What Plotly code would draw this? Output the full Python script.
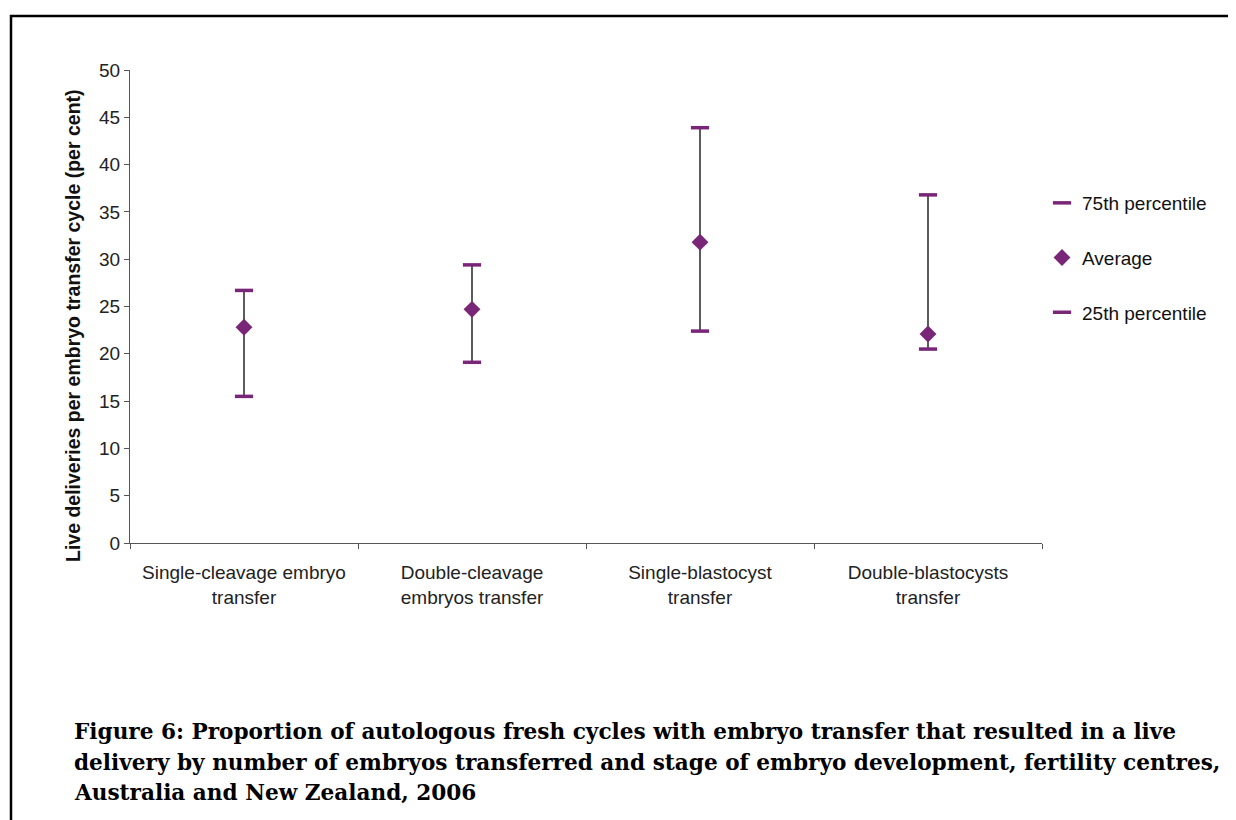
import plotly.graph_objects as go

categories = ["Single-cleavage embryo<br>transfer", "Double-cleavage<br>embryos transfer",
              "Single-blastocyst<br>transfer", "Double-blastocysts<br>transfer"]
p75 = [26.7, 29.4, 43.9, 36.8]
average = [22.8, 24.7, 31.8, 22.1]
p25 = [15.5, 19.1, 22.4, 20.5]
y_ticks = [0, 5, 10, 15, 20, 25, 30, 35, 40, 45, 50]
y_title = "Live deliveries per embryo transfer cycle (per cent)"
caption_lines = [
    "Figure 6: Proportion of autologous fresh cycles with embryo transfer that resulted in a live",
    "delivery by number of embryos transferred and stage of embryo development, fertility centres,",
    "Australia and New Zealand, 2006",
]

purple = "#7a2678"
font_sans = "Liberation Sans, Arial, sans-serif"

fig = go.Figure()

# vertical connecting lines (high-low)
fig.add_trace(go.Scatter(
    x=categories, y=average, mode="markers", showlegend=False, hoverinfo="skip",
    marker=dict(size=0.1, color="rgba(0,0,0,0)"),
    error_y=dict(type="data", symmetric=False,
                 array=[h - a for h, a in zip(p75, average)],
                 arrayminus=[a - l for a, l in zip(average, p25)],
                 color="#333333", thickness=1.6, width=0),
))
fig.add_trace(go.Scatter(
    x=categories, y=p75, mode="markers", name="75th percentile", legendgroup="a",
    marker=dict(symbol="line-ew-open", size=13, color=purple, line=dict(color=purple, width=3.5)),
))
fig.add_trace(go.Scatter(
    x=categories, y=average, mode="markers", name="Average", legendgroup="b",
    marker=dict(symbol="diamond", size=13, color=purple),
))
fig.add_trace(go.Scatter(
    x=categories, y=p25, mode="markers", name="25th percentile", legendgroup="c",
    marker=dict(symbol="line-ew-open", size=13, color=purple, line=dict(color=purple, width=3.5)),
))

fig.update_layout(
    width=1228, height=812,
    margin=dict(l=122, r=194, t=62, b=277),
    paper_bgcolor="white", plot_bgcolor="white",
    font=dict(family=font_sans, size=19, color="#111111"),
    legend=dict(x=1.0, y=(543 - 258) / 473, xanchor="left", yanchor="middle",
                tracegroupgap=27, font=dict(size=19, family=font_sans, color="#111111"),
                itemwidth=30, bgcolor="rgba(0,0,0,0)"),
    xaxis=dict(type="category", range=[-0.5, 3.5], showline=True, linecolor="#555555", linewidth=1.2,
               ticks="outside", tickson="boundaries", ticklen=5, tickcolor="#555555",
               ticklabelstandoff=12,
               showgrid=False, zeroline=False, tickfont=dict(size=19, family=font_sans, color="#222222")),
    yaxis=dict(range=[0, 50], tickvals=y_ticks, showline=True, linecolor="#555555", linewidth=1.2,
               ticks="outside", ticklen=5, tickcolor="#555555", showgrid=False, zeroline=False,
               tickfont=dict(size=19, family=font_sans, color="#222222")),
    showlegend=True,
)

# y-axis title as rotated annotation
fig.add_annotation(
    xref="paper", yref="paper", x=(73 - 130) / 912, y=(543 - 326) / 473,
    xanchor="center", yanchor="middle", textangle=-90, showarrow=False,
    text="<b>" + y_title + "</b>",
    font=dict(size=19.5, family=font_sans, color="#111111"),
)

# outer frame (extends past right/bottom edges as in reference)
fig.add_shape(type="rect", xref="paper", yref="paper",
              x0=(11 - 130) / 912, x1=(1250 - 130) / 912,
              y0=(543 - 830) / 473, y1=(543 - 16) / 473,
              line=dict(color="black", width=2.5), fillcolor="rgba(0,0,0,0)", layer="below")

for i, line in enumerate(caption_lines):
    fig.add_annotation(
        xref="paper", yref="paper", x=(72 - 130) / 912, y=(543 - (732 + 30 * i)) / 473,
        xanchor="left", yanchor="middle", align="left", showarrow=False,
        text="<b>" + line + "</b>",
        font=dict(family="DejaVu Serif, serif", size=21.6, color="black"),
    )

fig.write_html("out.html")
